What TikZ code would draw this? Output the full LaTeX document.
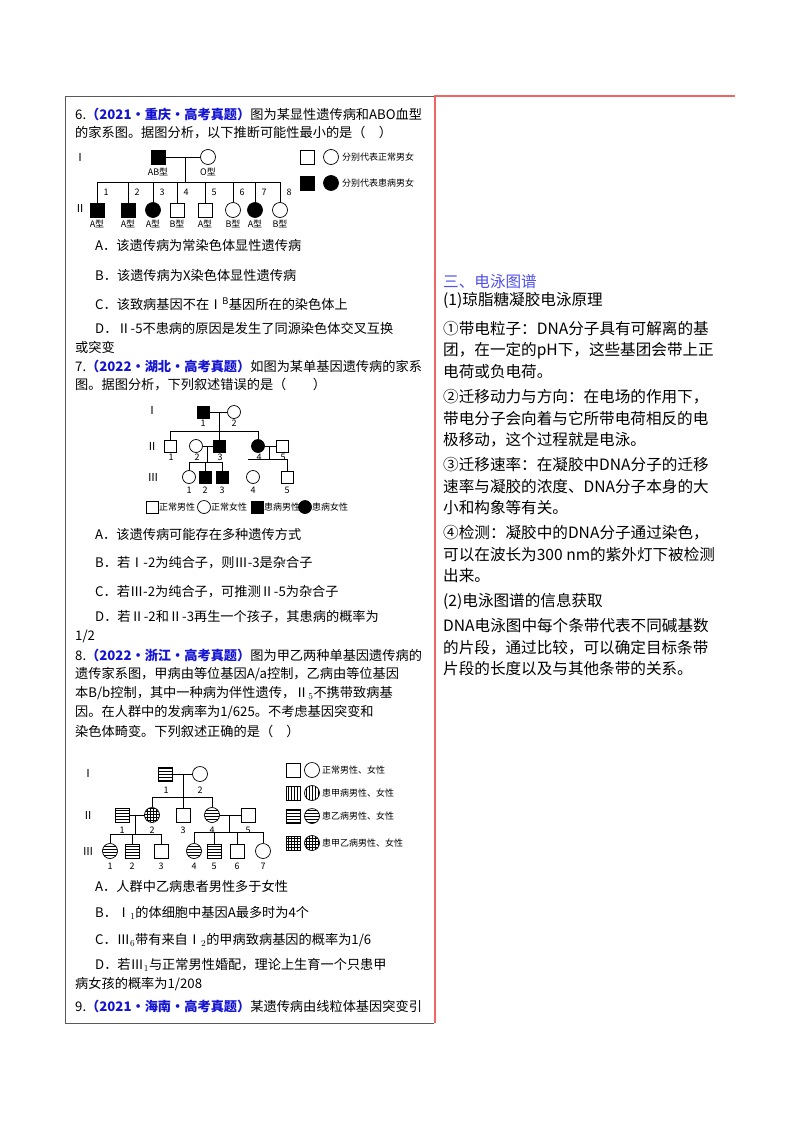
\documentclass[tikz,border=0pt]{standalone}
\usepackage{fontspec}
\setmainfont{Noto Sans CJK SC}
\usetikzlibrary{patterns}
\definecolor{qblue}{RGB}{20,20,210}
\definecolor{hblue}{RGB}{80,80,235}
\definecolor{redl}{RGB}{240,100,100}
\begin{document}
\begin{tikzpicture}[x=1pt,y=-1pt,
 lt/.style={anchor=west,inner sep=0pt,font=\fontsize{13.2}{14}\selectfont},
 rt/.style={anchor=west,inner sep=0pt,font=\fontsize{15.6}{17}\selectfont},
 sm/.style={inner sep=0pt,font=\fontsize{9}{10}\selectfont},
 rn/.style={inner sep=0pt,font=\fontsize{11}{12}\selectfont},
 ms/.style={draw,rectangle,minimum size=14pt,inner sep=0pt,line width=0.7pt},
 fc/.style={draw,circle,minimum size=15pt,inner sep=0pt,line width=0.7pt},
 ms2/.style={ms,minimum size=12pt},
 fc2/.style={fc,minimum size=13pt},
 aff/.style={fill=black},
 hs/.style={pattern=horizontal lines},
 vs/.style={pattern=vertical lines},
 gs/.style={pattern=grid},
 ln/.style={line width=0.7pt}]
\useasboundingbox (0,0) rectangle (800,1132);
% frames
\draw[gray!70!black,line width=0.8pt] (434,96) -- (65,96) -- (65,1023) -- (434,1023);
\draw[redl,line width=1.6pt] (435,96) -- (435,1023);
\draw[redl,line width=1.6pt] (434,96) -- (735,96);
% ---- Q6
\node[lt] (t1) at (75,114) {6.\textcolor{qblue}{\bfseries （2021·重庆·高考真题）}图为某显性遗传病和ABO血型};
\node[lt] (t2) at (75,133) {的家系图。据图分析，以下推断可能性最小的是（\quad ）};
\node[rn] (r1) at (80,157) {Ⅰ};
\node[rn] (r2) at (80,208) {Ⅱ};
\node[ms,aff] (p1) at (158,157) {};
\node[fc] (p2) at (208,157) {};
\node[sm] at (158,172) {AB型};
\node[sm] at (208,172) {O型};
\coordinate (d1) at (185,157);
\coordinate (s1) at (185,182);
\draw[ln] (p1.east) -- (p2.west);
\draw[ln] (d1) -- (s1);
\draw[ln] (97,182) -- (280,182);
\foreach \x/\n/\t/\s/\lab in {97/1/ms/aff/A型,128/2/ms/aff/A型,153/3/fc/aff/A型,177/4/ms//B型,205/5/ms//A型,233/6/fc//B型,255/7/fc/aff/A型,280/8/fc//B型}{
 \node[\t,\s] (c\n) at (\x,210) {};
 \draw[ln] (\x,182) -- (c\n.north);
 \node[sm] at (\x+9,192) {\n};
 \node[sm] at (\x,224) {\lab};
}
\node[ms] (l1) at (307,157) {};
\node[fc] (l2) at (331,157) {};
\node[sm,anchor=west] at (342,157) {分别代表正常男女};
\node[ms,aff] (l3) at (307,183) {};
\node[fc,aff] (l4) at (331,183) {};
\node[sm,anchor=west] at (342,183) {分别代表患病男女};
\node[lt] at (95,245) {A．该遗传病为常染色体显性遗传病};
\node[lt] at (95,275) {B．该遗传病为X染色体显性遗传病};
\node[lt] at (95,304) {C．该致病基因不在Ⅰ$^{\mathrm B}$基因所在的染色体上};
\node[lt] at (95,328) {D．Ⅱ-5不患病的原因是发生了同源染色体交叉互换};
\node[lt] at (75,347) {或突变};
% ---- Q7
\node[lt] at (75,366) {7.\textcolor{qblue}{\bfseries （2022·湖北·高考真题）}如图为某单基因遗传病的家系};
\node[lt] at (75,385) {图。据图分析，下列叙述错误的是（\qquad ）};
\node[rn] at (152,410) {Ⅰ};
\node[rn] at (152,446) {Ⅱ};
\node[rn] at (153,477) {Ⅲ};
\node[ms2,aff] (a1) at (203,412) {};
\node[fc2] (a2) at (234,412) {};
\node[sm] at (203,423) {1};
\node[sm] at (234,423) {2};
\draw[ln] (a1.east) -- (a2.west);
\draw[ln] (219,412) -- (219,431);
\draw[ln] (170,431) -- (258,431);
\node[ms2] (b1) at (170,446) {};
\node[fc2] (b2) at (196,446) {};
\node[ms2,aff] (b3) at (219,446) {};
\node[fc2,aff] (b4) at (258,446) {};
\node[ms2] (b5) at (282,446) {};
\draw[ln] (170,431) -- (b1.north);
\draw[ln] (219,431) -- (b3.north);
\draw[ln] (258,431) -- (b4.north);
\foreach \x/\n in {170/1,196/2,219/3,258/4,282/5}{\node[sm] at (\x+1,457) {\n};}
\draw[ln] (b2.east) -- (b3.west);
\draw[ln] (b4.east) -- (b5.west);
\draw[ln] (207,446) -- (207,462);
\draw[ln] (189,462) -- (222,462);
\node[fc2] (e1) at (189,477) {};
\node[ms2,aff] (e2) at (205,477) {};
\node[ms2,aff] (e3) at (222,477) {};
\node[fc2] (e4) at (253,477) {};
\node[ms2] (e5) at (287,477) {};
\draw[ln] (189,462) -- (e1.north);
\draw[ln] (205,462) -- (e2.north);
\draw[ln] (222,462) -- (e3.north);
\draw[ln] (269,446) -- (269,459);
\draw[ln] (248,459) -- (287,459) -- (e5.north);
\foreach \x/\n in {189/1,205/2,222/3,253/4,287/5}{\node[sm] at (\x,490) {\n};}
\node[ms2] (g1) at (152,507) {};
\node[sm,anchor=west] at (159,507) {正常男性};
\node[fc2] (g2) at (204,507) {};
\node[sm,anchor=west] at (211,507) {正常女性};
\node[ms2,aff] (g3) at (257,507) {};
\node[sm,anchor=west] at (264,507) {患病男性};
\node[fc2,aff] (g4) at (305,507) {};
\node[sm,anchor=west] at (312,507) {患病女性};
\node[lt] at (95,534) {A．该遗传病可能存在多种遗传方式};
\node[lt] at (95,563) {B．若Ⅰ-2为纯合子，则Ⅲ-3是杂合子};
\node[lt] at (95,592) {C．若Ⅲ-2为纯合子，可推测Ⅱ-5为杂合子};
\node[lt] at (95,617) {D．若Ⅱ-2和Ⅱ-3再生一个孩子，其患病的概率为};
\node[lt] at (75,636) {1/2};
% ---- Q8
\node[lt] at (75,655) {8.\textcolor{qblue}{\bfseries （2022·浙江·高考真题）}图为甲乙两种单基因遗传病的};
\node[lt] at (75,674) {遗传家系图，甲病由等位基因A/a控制，乙病由等位基因};
\node[lt] at (75,693) {本B/b控制，其中一种病为伴性遗传，Ⅱ$_5$不携带致病基};
\node[lt] at (75,712) {因。在人群中的发病率为1/625。不考虑基因突变和};
\node[lt] at (75,731) {染色体畸变。下列叙述正确的是（\quad ）};
\node[rn] at (88,773) {Ⅰ};
\node[rn] at (88,815) {Ⅱ};
\node[rn] at (88,851) {Ⅲ};
\node[ms,hs] (h1) at (165,774) {};
\node[fc] (h2) at (200,774) {};
\node[sm] at (166,790) {1};
\node[sm] at (200,790) {2};
\draw[ln] (h1.east) -- (h2.west);
\draw[ln] (183,774) -- (183,797);
\draw[ln] (152,797) -- (212,797);
\node[ms,hs] (k1) at (122,815) {};
\node[fc,gs] (k2) at (152,815) {};
\node[ms] (k3) at (183,815) {};
\node[fc,hs] (k4) at (212,815) {};
\node[ms] (k5) at (248,815) {};
\draw[ln] (152,797) -- (k2.north);
\draw[ln] (183,797) -- (k3.north);
\draw[ln] (212,797) -- (k4.north);
\foreach \x/\n in {122/1,152/2,183/3,212/4,248/5}{\node[sm] at (\x,830) {\n};}
\draw[ln] (k1.east) -- (k2.west);
\draw[ln] (k4.east) -- (k5.west);
\draw[ln] (135,815) -- (135,834);
\draw[ln] (110,834) -- (161,834);
\draw[ln] (229,815) -- (229,832);
\draw[ln] (194,832) -- (263,832);
\node[fc,hs] (m1) at (110,851) {};
\node[ms,hs] (m2) at (132,851) {};
\node[ms] (m3) at (161,851) {};
\node[fc,hs] (m4) at (194,851) {};
\node[ms,hs] (m5) at (214,851) {};
\node[ms] (m6) at (237,851) {};
\node[fc] (m7) at (263,851) {};
\draw[ln] (110,834) -- (m1.north);
\draw[ln] (132,834) -- (m2.north);
\draw[ln] (161,834) -- (m3.north);
\draw[ln] (194,832) -- (m4.north);
\draw[ln] (214,832) -- (m5.north);
\draw[ln] (237,832) -- (m6.north);
\draw[ln] (263,832) -- (m7.north);
\foreach \x/\n in {110/1,132/2,161/3,194/4,214/5,237/6,263/7}{\node[sm] at (\x,866) {\n};}
\node[ms] (n1) at (293,770) {};
\node[fc] (n2) at (312,770) {};
\node[sm,anchor=west] at (322,770) {正常男性、女性};
\node[ms,vs] (n3) at (293,793) {};
\node[fc,vs] (n4) at (312,793) {};
\node[sm,anchor=west] at (322,793) {患甲病男性、女性};
\node[ms,hs] (n5) at (293,816) {};
\node[fc,hs] (n6) at (312,816) {};
\node[sm,anchor=west] at (322,816) {患乙病男性、女性};
\node[ms,gs] (n7) at (293,843) {};
\node[fc,gs] (n8) at (312,843) {};
\node[sm,anchor=west] at (322,843) {患甲乙病男性、女性};
\node[lt] at (95,886) {A．人群中乙病患者男性多于女性};
\node[lt] at (95,913) {B．Ⅰ$_1$的体细胞中基因A最多时为4个};
\node[lt] at (95,940) {C．Ⅲ$_6$带有来自Ⅰ$_2$的甲病致病基因的概率为1/6};
\node[lt] at (95,965) {D．若Ⅲ$_1$与正常男性婚配，理论上生育一个只患甲};
\node[lt] at (75,984) {病女孩的概率为1/208};
\node[lt] at (75,1006) {9.\textcolor{qblue}{\bfseries （2021·海南·高考真题）}某遗传病由线粒体基因突变引};
% ---- right column
\node[rt,text=hblue] at (443,282) {三、电泳图谱};
\node[rt] at (443,300) {(1)琼脂糖凝胶电泳原理};
\node[rt] at (443,329) {①带电粒子：DNA分子具有可解离的基};
\node[rt] at (443,351) {团，在一定的pH下，这些基团会带上正};
\node[rt] at (443,372) {电荷或负电荷。};
\node[rt] at (443,397) {②迁移动力与方向：在电场的作用下，};
\node[rt] at (443,419) {带电分子会向着与它所带电荷相反的电};
\node[rt] at (443,440) {极移动，这个过程就是电泳。};
\node[rt] at (443,465) {③迁移速率：在凝胶中DNA分子的迁移};
\node[rt] at (443,487) {速率与凝胶的浓度、DNA分子本身的大};
\node[rt] at (443,508) {小和构象等有关。};
\node[rt] at (443,533) {④检测：凝胶中的DNA分子通过染色，};
\node[rt] at (443,555) {可以在波长为300 nm的紫外灯下被检测};
\node[rt] at (443,576) {出来。};
\node[rt] at (443,601) {(2)电泳图谱的信息获取};
\node[rt] at (443,626) {DNA电泳图中每个条带代表不同碱基数};
\node[rt] at (443,648) {的片段，通过比较，可以确定目标条带};
\node[rt] at (443,669) {片段的长度以及与其他条带的关系。};
\end{tikzpicture}
\end{document}
